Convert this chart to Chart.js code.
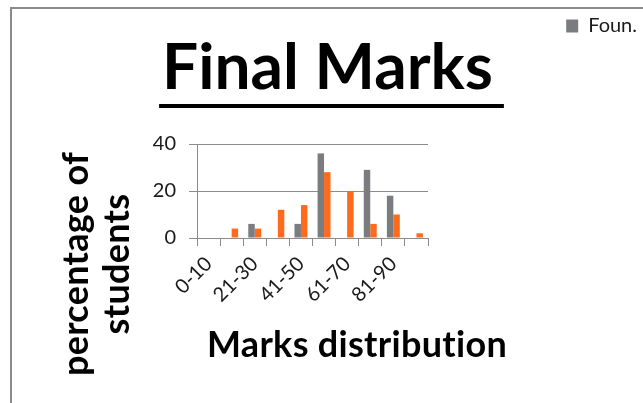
<!DOCTYPE html>
<html>
<head>
<meta charset="utf-8">
<script src="https://cdn.jsdelivr.net/npm/chart.js@4.4.0/dist/chart.umd.min.js"></script>
<style>
  html, body { margin: 0; padding: 0; background: #fff; }
  #wrap { width: 643px; height: 403px; }
</style>
</head>
<body>
<div id="wrap"><canvas id="marksChart" width="643" height="403"></canvas></div>
<script>
const categories = ['0-10', '11-20', '21-30', '31-40', '41-50', '51-60', '61-70', '71-80', '81-90', '91-100'];
const foundationPct = [0, 0, 6, 0, 6, 36, 0, 29, 18, 0];
const finalPct = [0, 4, 4, 12, 14, 28, 20, 6, 10, 2];
const seriesNames = ['Foun.', 'Final'];
const yTicks = [0, 20, 40];
const chartTitle = 'Final Marks';
const yTitle = ['percentage of', 'students'];
const xTitle = 'Marks distribution';

const FONT = 'Lato, "Open Sans", sans-serif';
const GRID = '#8c8c8c';
const TEXT = '#1a1a1a';

Chart.defaults.font.family = FONT;

// frame, title underline and the two axis captions
const decorations = {
  id: 'decorations',
  beforeDraw(chart) {
    const ctx = chart.ctx;
    ctx.save();
    ctx.strokeStyle = '#8a8a8a';
    ctx.lineWidth = 2;
    ctx.beginPath();
    ctx.moveTo(11, chart.height);
    ctx.lineTo(11, 8);
    ctx.lineTo(chart.width, 8);
    ctx.stroke();
    ctx.restore();
  },
  afterDraw(chart) {
    const ctx = chart.ctx;
    const tb = chart.titleBlock;
    ctx.save();
    ctx.font = 'bold 64px ' + FONT;
    const w = ctx.measureText(chartTitle).width;
    const cx = (tb.left + tb.right) / 2;
    ctx.fillStyle = '#000';
    ctx.fillRect(cx - w / 2 - 3, 104, w + 14, 4);

    // small spacing keeps the "ti" ligature apart
    ctx.letterSpacing = '0.3px';
    ctx.textAlign = 'center';
    ctx.textBaseline = 'alphabetic';
    ctx.font = 'bold 36px ' + FONT;
    ctx.fillText(xTitle, 357, 357);

    ctx.font = 'bold 36px ' + FONT;
    ctx.translate(0, 264);
    ctx.rotate(-Math.PI / 2);
    ctx.fillText(yTitle[0], 0, 88);
    ctx.fillText(yTitle[1], 0, 129);
    ctx.restore();
  }
};

new Chart(document.getElementById('marksChart'), {
  type: 'bar',
  data: {
    labels: categories,
    datasets: [
      { label: seriesNames[0], data: foundationPct, backgroundColor: '#7b7c80' },
      { label: seriesNames[1], data: finalPct, backgroundColor: '#ff6a1c' }
    ]
  },
  options: {
    responsive: false,
    animation: false,
    layout: { padding: { left: 12, top: 10, right: 0, bottom: 0 } },
    datasets: { bar: { categoryPercentage: 0.56, barPercentage: 1 } },
    plugins: {
      legend: {
        position: 'top',
        align: 'end',
        weight: 3000,
        labels: {
          filter: item => item.datasetIndex === 0,
          boxWidth: 12,
          boxHeight: 13,
          padding: 6,
          color: TEXT,
          font: { size: 20 }
        }
      },
      title: {
        display: true,
        text: chartTitle,
        color: '#000',
        font: { size: 64, weight: 'bold', lineHeight: 1 },
        padding: { top: -10, bottom: 44 }
      },
      tooltip: { enabled: false }
    },
    scales: {
      x: {
        grid: { drawOnChartArea: false, offset: true, tickLength: 8, color: GRID },
        border: { color: GRID },
        ticks: {
          autoSkip: false,
          maxRotation: 45,
          minRotation: 45,
          padding: 6,
          color: TEXT,
          font: { size: 20 },
          callback: (v, i) => (i % 2 === 0 ? categories[i] : '')
        },
        afterFit(s) { s.height = 165; }
      },
      y: {
        min: 0,
        max: 40,
        afterBuildTicks(s) { s.ticks = yTicks.map(v => ({ value: v })); },
        grid: { color: GRID, tickLength: 8 },
        border: { color: GRID },
        ticks: { padding: 13, color: TEXT, font: { size: 20 } },
        afterFit(s) { s.width = 185; }
      },
      yRight: {
        position: 'right',
        grid: { display: false },
        border: { display: false },
        ticks: { display: false },
        afterFit(s) { s.width = 215; }
      }
    }
  },
  plugins: [decorations]
});
</script>
</body>
</html>
